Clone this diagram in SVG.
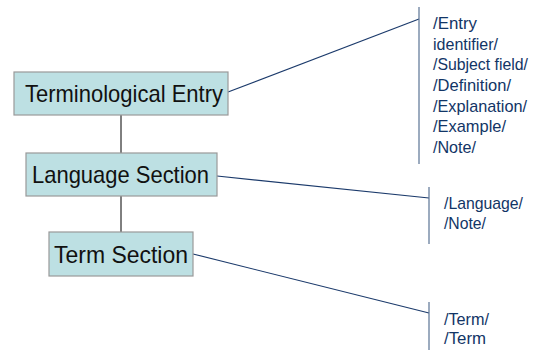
<svg xmlns="http://www.w3.org/2000/svg" width="535" height="350" viewBox="0 0 535 350">
<style>
.box{fill:#bde0e3;stroke:#999;stroke-width:1.2}
.bt{font-family:"Liberation Sans",Arial,sans-serif;font-size:24px;fill:#111}
.lt{font-family:"Liberation Sans",Arial,sans-serif;font-size:17px;fill:#123566}
.tree{stroke:#000;stroke-width:1;fill:none}
.lead{stroke:#1b3a6b;stroke-width:1.2;fill:none}
.brk{stroke:#5a7394;stroke-width:1.2;fill:none}
</style>
<rect width="535" height="350" fill="#fff"/>
<g id="connectors">
<line class="tree" x1="121" y1="115" x2="121" y2="153"/>
<line class="tree" x1="121" y1="196" x2="121" y2="232"/>
<line class="lead" x1="228" y1="92" x2="419" y2="19"/>
<line class="lead" x1="217" y1="176" x2="429" y2="198"/>
<line class="lead" x1="193" y1="254" x2="429" y2="313"/>
</g>
<g id="entry">
<rect class="box" x="14" y="72" width="214" height="43"/>
<text class="bt" x="25" y="102" textLength="198" lengthAdjust="spacingAndGlyphs">Terminological Entry</text>
</g>
<g id="language">
<rect class="box" x="26" y="153" width="191" height="43"/>
<text class="bt" x="32" y="183" textLength="177" lengthAdjust="spacingAndGlyphs">Language Section</text>
</g>
<g id="term">
<rect class="box" x="49" y="232" width="144" height="44"/>
<text class="bt" x="54" y="263" textLength="134" lengthAdjust="spacingAndGlyphs">Term Section</text>
</g>
<g id="entry-fields">
<line class="brk" x1="419" y1="7" x2="419" y2="164"/>
<text class="lt" x="433" y="29" textLength="44" lengthAdjust="spacingAndGlyphs">/Entry</text>
<text class="lt" x="433" y="50" textLength="65" lengthAdjust="spacingAndGlyphs">identifier/</text>
<text class="lt" x="433" y="70" textLength="95" lengthAdjust="spacingAndGlyphs">/Subject field/</text>
<text class="lt" x="433" y="91" textLength="78" lengthAdjust="spacingAndGlyphs">/Definition/</text>
<text class="lt" x="433" y="112" textLength="94" lengthAdjust="spacingAndGlyphs">/Explanation/</text>
<text class="lt" x="433" y="132" textLength="73" lengthAdjust="spacingAndGlyphs">/Example/</text>
<text class="lt" x="433" y="153" textLength="43" lengthAdjust="spacingAndGlyphs">/Note/</text>
</g>
<g id="language-fields">
<line class="brk" x1="429" y1="187" x2="429" y2="244"/>
<text class="lt" x="444" y="209" textLength="79" lengthAdjust="spacingAndGlyphs">/Language/</text>
<text class="lt" x="444" y="229" textLength="42" lengthAdjust="spacingAndGlyphs">/Note/</text>
</g>
<g id="term-fields">
<line class="brk" x1="429" y1="302" x2="429" y2="350"/>
<text class="lt" x="444" y="325" textLength="45" lengthAdjust="spacingAndGlyphs">/Term/</text>
<text class="lt" x="444" y="344" textLength="42" lengthAdjust="spacingAndGlyphs">/Term</text>
</g>
</svg>
